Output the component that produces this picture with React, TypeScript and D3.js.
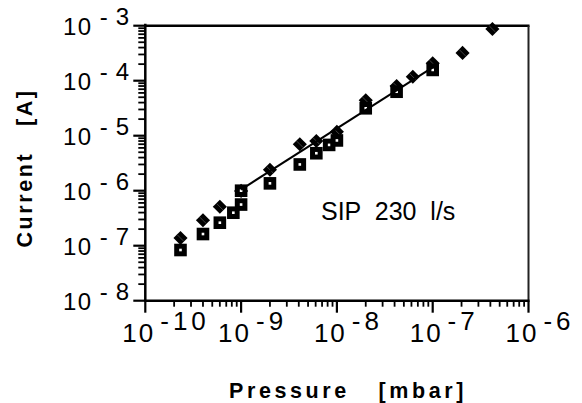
import React from 'react';
import * as d3 from 'd3';

// pressure [mbar] vs ion current [A]
const diamondPressure = [2.33e-10, 4.0e-10, 6.0e-10, 1.0e-9, 2.0e-9, 4.1e-9, 6.1e-9, 1.0e-8, 2.0e-8, 4.2e-8, 6.2e-8, 1.0e-7, 2.05e-7, 4.2e-7];
const diamondCurrent = [1.38e-7, 2.9e-7, 5.1e-7, 9.9e-7, 2.4e-6, 7.0e-6, 8.0e-6, 1.18e-5, 4.4e-5, 8.0e-5, 1.18e-4, 2.07e-4, 3.2e-4, 8.7e-4];

const squarePressure = [2.33e-10, 4.0e-10, 6.0e-10, 8.3e-10, 1.0e-9, 1.0e-9, 2.0e-9, 4.1e-9, 6.1e-9, 8.3e-9, 1.0e-8, 2.0e-8, 4.2e-8, 1.0e-7];
const squareCurrent = [8.35e-8, 1.63e-7, 2.62e-7, 3.98e-7, 1.0e-6, 5.6e-7, 1.36e-6, 3.0e-6, 4.8e-6, 6.8e-6, 8.2e-6, 3.15e-5, 6.3e-5, 1.57e-4];

// fitted line
const fitPressure = [1e-9, 1e-7];
const fitCurrent = [1.05e-6, 1.75e-4];

const xDecades = [-10, -9, -8, -7, -6];
const yDecades = [-3, -4, -5, -6, -7, -8];

const width = 582;
const height = 403;
const margin = { top: 25.7, right: 53.5, bottom: 102.3, left: 145.3 };

const App = () => {
    const x = d3.scaleLog().domain([1e-10, 1e-6]).range([margin.left, width - margin.right]);
    const y = d3.scaleLog().domain([1e-8, 1e-3]).range([height - margin.bottom, margin.top]);
    const x0 = margin.left;
    const x1 = width - margin.right;
    const y0 = height - margin.bottom;
    const y1 = margin.top;

    const isMajor = (v: number) => Math.abs(Math.log10(v) - Math.round(Math.log10(v))) < 1e-6;

    const line = d3.line<number>()
        .x((_, i) => x(fitPressure[i]))
        .y(d => y(d));

    const font = 'Liberation Sans, Arial, Helvetica, sans-serif';

    return (
        <svg width={width} height={height} style={{ position: 'absolute', left: 0, top: 0, background: '#fff' }}
            fontFamily={font}>
            {/* frame */}
            <line x1={x0} x2={x1 + 1} y1={y1} y2={y1} stroke="#000" strokeWidth={2.5} />
            <line x1={x1} x2={x1} y1={y1} y2={y0} stroke="#222" strokeWidth={2} />

            {/* y axis ticks */}
            {y.ticks().map((t, i) => (
                <line key={'yt' + i} x1={x0 - (isMajor(t) ? 12 : 7)} x2={x0} y1={y(t)} y2={y(t)}
                    stroke="#000" strokeWidth={isMajor(t) ? 2.2 : 1.8} />
            ))}
            {/* x axis ticks */}
            {x.ticks().map((t, i) => (
                <line key={'xt' + i} x1={x(t)} x2={x(t)} y1={y0} y2={y0 + (isMajor(t) ? 12 : 6)}
                    stroke="#000" strokeWidth={isMajor(t) ? 2.2 : 1.8} />
            ))}
            <line x1={x0} x2={x0} y1={y1 - 2} y2={y0 + 1} stroke="#000" strokeWidth={2.5} />
            <line x1={x0 - 1} x2={x1 + 1} y1={y0} y2={y0} stroke="#000" strokeWidth={2.5} />

            {/* y tick labels */}
            {yDecades.map(d => (
                <text key={'yl' + d} x={129} y={y(Math.pow(10, d)) + 9} textAnchor="end" fontSize={24} fill="#000"
                    style={{ whiteSpace: 'pre' }}>
                    <tspan letterSpacing={1.5}>10</tspan>
                    <tspan dx={7} dy={-10}>-</tspan>
                    <tspan dx={8}>{String(Math.abs(d))}</tspan>
                </text>
            ))}

            {/* x tick labels */}
            {xDecades.map(d => (
                <text key={'xl' + d} x={x(Math.pow(10, d)) - 23} y={342} fontSize={26} fill="#000">
                    <tspan letterSpacing={2}>10</tspan>
                    <tspan dx={5} dy={-12}>-</tspan>
                    <tspan dx={4} letterSpacing={4}>{String(Math.abs(d))}</tspan>
                </text>
            ))}

            {/* diamonds */}
            {diamondPressure.map((p, i) => (
                <g key={'d' + i} transform={`translate(${x(p)},${y(diamondCurrent[i])}) rotate(45)`}>
                    <rect x={-5} y={-5} width={10} height={10} fill="#000" />
                    <line x1={-4.4} x2={4.4} y1={0} y2={0} stroke="#666" strokeWidth={0.6} />
                </g>
            ))}

            {/* squares */}
            {squarePressure.map((p, i) => (
                <g key={'s' + i} transform={`translate(${x(p)},${y(squareCurrent[i])})`}>
                    <rect x={-6.3} y={-6.3} width={12.6} height={12.6} fill="#000" />
                    <rect x={-1.3} y={-1.3} width={2.6} height={2.6} fill="#fff" />
                </g>
            ))}

            {/* fit */}
            <path d={line(fitCurrent) || ''} fill="none" stroke="#000" strokeWidth={2} />

            <text x={321} y={220} fontSize={25} fill="#000" style={{ whiteSpace: 'pre' }}>SIP  230  l/s</text>

            <text x={348} y={398} textAnchor="middle" fontSize={21.5} fontWeight="bold" letterSpacing={3.6}
                fill="#000" style={{ whiteSpace: 'pre' }}>Pressure   [mbar]</text>
            <text transform="translate(32,168) rotate(-90)" textAnchor="middle" fontSize={21.5} fontWeight="bold"
                letterSpacing={2.6} fill="#000" style={{ whiteSpace: 'pre' }}>Current   [A]</text>
        </svg>
    );
};

export default App;
